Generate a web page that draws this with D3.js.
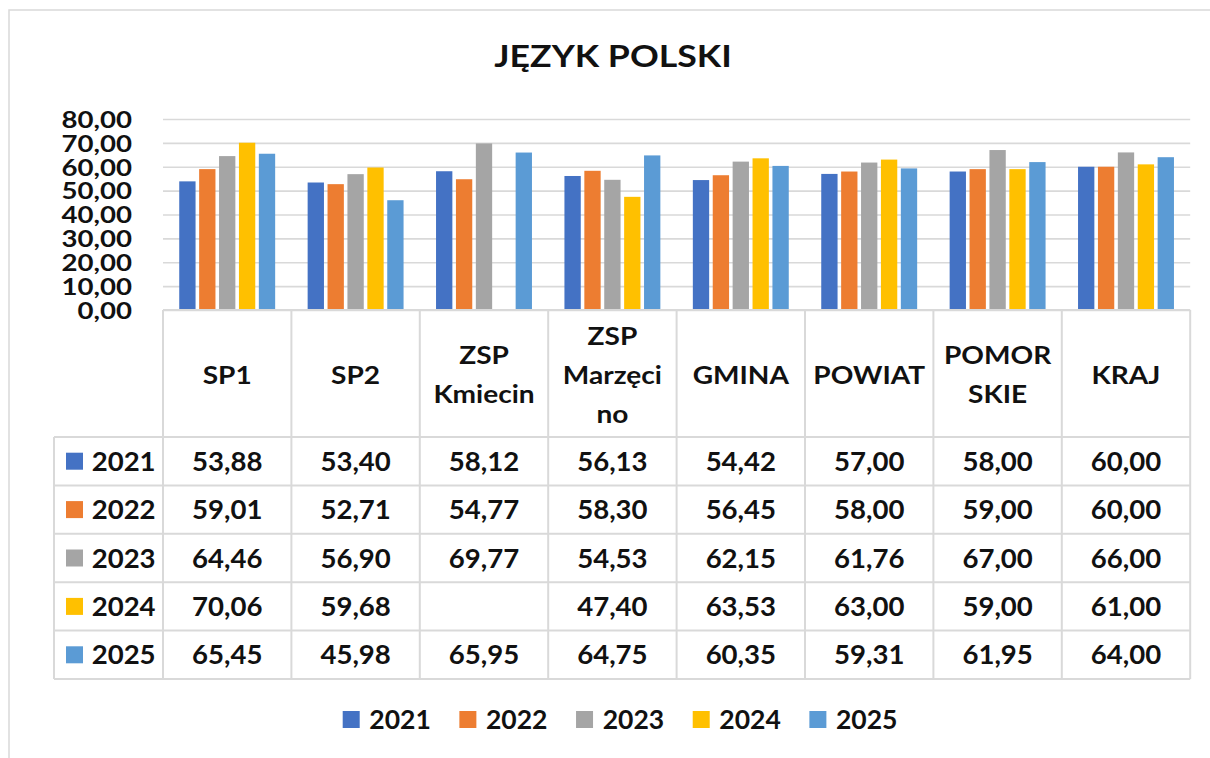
<!DOCTYPE html>
<html>
<head>
<meta charset="utf-8">
<script src="https://cdn.jsdelivr.net/npm/d3@7"></script>
<style>
  html, body { margin: 0; padding: 0; background: #fff; }
  svg { display: block; }
  text { font-family: Lato, "Open Sans", sans-serif; font-weight: 700; fill: #111; }
</style>
</head>
<body>
<svg id="chart" width="1210" height="758"></svg>
<script>
// Wyniki egzaminu – język polski
const categories = ["SP1", "SP2", "ZSP Kmiecin", "ZSP Marzęcino", "GMINA", "POWIAT", "POMORSKIE", "KRAJ"];
const headerLines = [["SP1"], ["SP2"], ["ZSP", "Kmiecin"], ["ZSP", "Marzęci", "no"], ["GMINA"], ["POWIAT"], ["POMOR", "SKIE"], ["KRAJ"]];
const years = ["2021", "2022", "2023", "2024", "2025"];
const colors = ["#4472C4", "#ED7D31", "#A5A5A5", "#FFC000", "#5B9BD5"];
const values2021 = [53.88, 53.40, 58.12, 56.13, 54.42, 57.00, 58.00, 60.00];
const values2022 = [59.01, 52.71, 54.77, 58.30, 56.45, 58.00, 59.00, 60.00];
const values2023 = [64.46, 56.90, 69.77, 54.53, 62.15, 61.76, 67.00, 66.00];
const values2024 = [70.06, 59.68, null, 47.40, 63.53, 63.00, 59.00, 61.00];
const values2025 = [65.45, 45.98, 65.95, 64.75, 60.35, 59.31, 61.95, 64.00];
const yTicks = [0, 10, 20, 30, 40, 50, 60, 70, 80];
const title = "JĘZYK POLSKI";

const series = [values2021, values2022, values2023, values2024, values2025];

const pl = d3.formatLocale({ decimal: ",", thousands: " ", grouping: [3], currency: ["", " zł"] });
const fmt = pl.format(".2f");

const svg = d3.select("#chart");
const gridColor = "#d9d9d9";

// chart frame
svg.append("rect")
  .attr("x", 9).attr("y", 10).attr("width", 1220).attr("height", 760)
  .attr("fill", "#fff").attr("stroke", gridColor).attr("stroke-width", 1.5);

// horizontally stretched text helper
function label(parent, x, y, str, size, sx, anchor) {
  return parent.append("text")
    .attr("transform", `translate(${x},${y}) scale(${sx},1)`)
    .attr("text-anchor", anchor || "middle")
    .style("font-size", size + "px")
    .text(str);
}

// title
label(svg, 613, 67, title, 31, 1.15, "middle");

// scales
const plotLeft = 163, plotRight = 1190.2, plotTop = 119, plotBottom = 310;
const x0 = d3.scaleBand().domain(categories).range([plotLeft, plotRight]).padding(0);
const x1 = d3.scaleBand().domain(years).range([0, x0.bandwidth()])
  .paddingInner(0.18).paddingOuter(0.816);
const y = d3.scaleLinear().domain([0, 80]).range([plotBottom, plotTop]);

// value axis with gridlines
const yAxis = svg.append("g")
  .attr("transform", `translate(${plotLeft},0)`)
  .call(d3.axisLeft(y).tickValues(yTicks).tickFormat(fmt)
    .tickSize(-(plotRight - plotLeft)).tickPadding(0));
yAxis.select(".domain").remove();
yAxis.selectAll(".tick line").attr("stroke", gridColor).attr("stroke-width", 1.6);
yAxis.selectAll(".tick text")
  .attr("x", null).attr("dy", null)
  .attr("transform", "translate(-31,8.3) scale(1.2,1)")
  .attr("text-anchor", "end")
  .style("font-size", "23px")
  .style("font-family", "Lato, sans-serif")
  .style("font-weight", 700)
  .attr("fill", "#111");

// bars
const groups = svg.append("g").selectAll("g")
  .data(categories)
  .join("g")
  .attr("transform", d => `translate(${x0(d)},0)`);

groups.selectAll("rect")
  .data((c, ci) => years.map((yr, si) => ({ yr, si, v: series[si][ci] })).filter(d => d.v !== null))
  .join("rect")
  .attr("x", d => x1(d.yr))
  .attr("width", x1.bandwidth())
  .attr("y", d => y(d.v))
  .attr("height", d => y(0) - y(d.v))
  .attr("fill", d => colors[d.si]);

// data table
const tableLeft = 54, headerBottom = 437, rowH = 48.4;
const table = svg.append("g");
const tableBottom = headerBottom + rowH * years.length;
const line = (x1_, y1_, x2_, y2_) => table.append("line")
  .attr("x1", x1_).attr("y1", y1_).attr("x2", x2_).attr("y2", y2_)
  .attr("stroke", gridColor).attr("stroke-width", 2);

line(plotLeft, plotBottom, plotRight, plotBottom);
categories.forEach(c => line(x0(c), plotBottom, x0(c), tableBottom));
line(plotRight, plotBottom, plotRight, tableBottom);
line(tableLeft, headerBottom, tableLeft, tableBottom);
years.forEach((yr, i) => line(tableLeft, headerBottom + rowH * i, plotRight, headerBottom + rowH * i));
line(tableLeft, tableBottom, plotRight, tableBottom);

// header (category names)
const headerMid = 383.5, linePitch = 39;
categories.forEach((c, ci) => {
  const lines = headerLines[ci];
  lines.forEach((ln, li) => {
    label(table, x0(c) + x0.bandwidth() / 2, headerMid + (li - (lines.length - 1) / 2) * linePitch, ln, 25.5, 1.1, "middle");
  });
});

// rows
years.forEach((yr, si) => {
  const rowTop = headerBottom + rowH * si;
  const base = rowTop + rowH / 2 + 9.5;
  table.append("rect")
    .attr("x", 66).attr("y", rowTop + rowH / 2 - 8.5)
    .attr("width", 17).attr("height", 17)
    .attr("fill", colors[si]);
  label(table, 91.7, base, yr, 26.5, 1.04, "start");
  categories.forEach((c, ci) => {
    const v = series[si][ci];
    if (v !== null) label(table, x0(c) + x0.bandwidth() / 2, base, fmt(v), 26.5, 1.04, "middle");
  });
});

// legend
const legendStep = 116.67, legendX = 342.7, legendY = 711;
const legend = svg.append("g").selectAll("g")
  .data(years)
  .join("g")
  .attr("transform", (d, i) => `translate(${legendX + i * legendStep},${legendY})`);
legend.append("rect")
  .attr("width", 17).attr("height", 17)
  .attr("fill", (d, i) => colors[i]);
legend.each(function (d) {
  label(d3.select(this), 26.6, 18, d, 26, 1.02, "start");
});
</script>
</body>
</html>
